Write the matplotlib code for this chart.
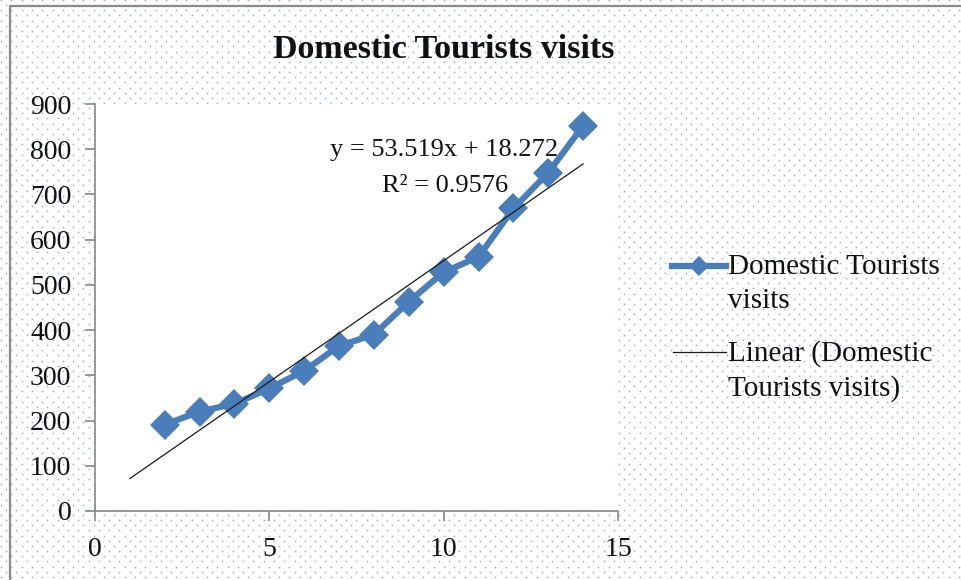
import numpy as np
import matplotlib
matplotlib.use('Agg')
import matplotlib.pyplot as plt
from matplotlib.lines import Line2D

plt.rcParams['font.family'] = ['Liberation Serif', 'DejaVu Serif']

# data
x_vals = [2, 3, 4, 5, 6, 7, 8, 9, 10, 11, 12, 13, 14]
visits = [191, 220, 237, 271, 310, 365, 390, 463, 528, 562, 669, 748, 852]
slope, intercept = 53.519, 18.272
r_squared = 0.9576
trend_x = [1, 14]
x_ticks = [0, 5, 10, 15]
y_ticks = list(range(0, 1000, 100))

W, H = 961, 580
blue = '#4a7ebb'
axis_grey = '#868686'

fig = plt.figure(figsize=(W / 100, H / 100), dpi=100)
fig.patch.set_facecolor('white')


def px(x, y):
    return x / W, 1 - y / H


# dotted chart-area background
bg = fig.add_axes([0, 0, 1, 1], zorder=0)
bg.set_xlim(0, W)
bg.set_ylim(H, 0)
bg.axis('off')
rows = np.arange(0, H + 6, 5.15)
dots_x, dots_y = [], []
for i, yy in enumerate(rows):
    xs = np.arange(1.0 + (5.15 if i % 2 else 0), W + 10, 10.3)
    dots_x.extend(xs)
    dots_y.extend([yy] * len(xs))
bg.plot(dots_x, dots_y, ls='none', marker='s', ms=1.1, mew=0, color='#8fb0dc')
# chart border
bg.plot([10, 10, W + 5], [H + 5, 5.5, 5.5], color='#8a8a8a', lw=1.6,
        solid_joinstyle='miter')

# plot area
l, b = px(95, 511)
r, t = px(618, 104)
ax = fig.add_axes([l, b, r - l, t - b], zorder=1)
ax.set_facecolor('white')

ax.plot(x_vals, visits, color=blue, lw=4.5, marker='D', ms=15, mew=0,
        solid_joinstyle='round', zorder=3)
trend_y = [slope * v + intercept for v in trend_x]
ax.plot(trend_x, trend_y, color='#1a1a1a', lw=0.9, zorder=4)

ax.set_xlim(0, 15)
ax.set_ylim(0, 900)
ax.set_xticks(x_ticks)
ax.set_yticks(y_ticks)
for s in ['top', 'right']:
    ax.spines[s].set_visible(False)
for s in ['left', 'bottom']:
    ax.spines[s].set_color(axis_grey)
    ax.spines[s].set_linewidth(1.2)
ax.tick_params(axis='both', direction='out', length=7, width=1.2,
               color=axis_grey, labelsize=20, labelcolor='#111111')
ax.tick_params(axis='y', pad=10)
ax.tick_params(axis='x', pad=12)

# trendline equation
fig.text(*px(444, 150), f'y = {slope}x + {intercept}', ha='center',
         va='center', fontsize=19, color='#111111')
fig.text(*px(445, 186), f'R\u00b2 = {r_squared}', ha='center',
         va='center', fontsize=19, color='#111111')

# title
fig.text(*px(444, 50), 'Domestic Tourists visits', ha='center', va='center',
         fontsize=24.5, fontweight='bold', color='#111111')

# legend
fig.add_artist(Line2D([672 / W, 726 / W], [1 - 266 / H] * 2, color=blue,
                      lw=4.5, zorder=5))
fig.add_artist(Line2D([699 / W], [1 - 266 / H], color=blue, marker='D',
                      ms=10, mew=0, ls='none', zorder=6))
fig.add_artist(Line2D([673 / W, 726 / W], [1 - 352 / H] * 2,
                      color='#1a1a1a', lw=0.9, zorder=5))
fig.text(*px(728, 284), 'Domestic Tourists\nvisits', ha='left',
         va='center', fontsize=21, linespacing=1.35, color='#111111')
fig.text(*px(728, 371), 'Linear (Domestic\nTourists visits)', ha='left',
         va='center', fontsize=21, linespacing=1.35, color='#111111')

fig.savefig('out.png', dpi=100)
